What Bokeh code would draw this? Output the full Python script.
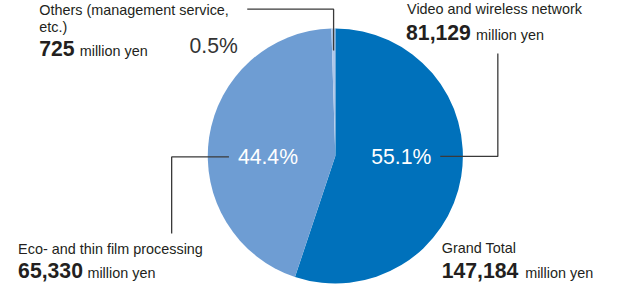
import math
from bokeh.plotting import figure
from bokeh.models import Range1d, ColumnDataSource
from bokeh.core.properties import value
from bokeh.embed import file_html
from bokeh.resources import INLINE

# ---- data ----
segment_names = ["Video and wireless network",
                 "Eco- and thin film processing",
                 "Others (management service,\netc.)"]
amounts = [81129, 65330, 725]          # million yen
slice_colors = ["#0071BB", "#6E9DD3", "#AEC7E9"]
unit_label = "million yen"
total_name = "Grand Total"

total = sum(amounts)
shares = [a / total for a in amounts]
pct_labels = [f"{100 * s:.1f}%" for s in shares]
amount_labels = [f"{a:,}" for a in amounts]

# ---- layout (reference pixel space, y down) ----
Y_TOP, Y_BOT = 6.0, 301.0
S = 284 / (Y_BOT - Y_TOP)
X0 = 313 - 0.5 * 609 / S
FONT = "Liberation Sans"
LAB, BIG = 15, 22
TXT = "#231F20"
LINE = "#3A3A3A"
BASE_FIX = 0.37   # em correction of the renderer's alphabetic baseline

def Y(v):
    return -v

p = figure(width=609, height=284, output_backend="svg", toolbar_location=None,
           x_axis_type=None, y_axis_type=None,
           x_range=Range1d(X0, X0 + 609 / S), y_range=Range1d(-Y_BOT, -Y_TOP))
p.min_border = 0
p.outline_line_color = None
p.grid.visible = False
p.background_fill_color = "white"

# pie
cx, cy, r = 344.5, 167.5, 132.5
cum = [0.0]
for s in shares:
    cum.append(cum[-1] + s)
starts = [math.pi / 2 - 2 * math.pi * cum[i] for i in range(len(shares))]
ends = [math.pi / 2 - 2 * math.pi * cum[i + 1] for i in range(len(shares))]
pie_src = ColumnDataSource(dict(start=starts, end=ends, color=slice_colors))
p.wedge(x=cx, y=Y(cy), radius=r, start_angle="start", end_angle="end",
        direction="clock", fill_color="color", line_color=None, source=pie_src)

# leader lines
p.line([253, 342.7, 342.7], [Y(15), Y(15), Y(58)], line_color=LINE, line_width=1.3)
p.line([513.3, 513.3, 453.5], [Y(61), Y(168), Y(168)], line_color=LINE, line_width=1.3)
p.line([234, 174.5, 174.5], [Y(168.5), Y(168.5), Y(248)], line_color=LINE, line_width=1.3)

def txt(x, y, t, size, color=TXT, style="normal", align="left"):
    yy = y - BASE_FIX * size
    p.text(x=[x], y=[Y(yy)], text=[t], text_font=value(FONT),
           text_font_size=f"{size * S:.1f}px",
           text_color=color, text_font_style=style, text_align=align,
           text_baseline="alphabetic")

# percentages
txt(413, 176, pct_labels[0], BIG, color="white", align="center")
txt(274.5, 176, pct_labels[1], BIG, color="white", align="center")
txt(193, 60.7, pct_labels[2], BIG, color="#333333")

# Video and wireless network
txt(419, 20, segment_names[0], LAB)
txt(418, 47.7, amount_labels[0], BIG, style="bold")
txt(490.7, 47.7, unit_label, LAB)

# Eco- and thin film processing
txt(15, 269.3, segment_names[1], LAB)
txt(15, 295, amount_labels[1], BIG, style="bold")
txt(87, 295, unit_label, LAB)

# Others
other_lines = segment_names[2].split("\n")
txt(37, 21.7, other_lines[0], LAB)
txt(37, 39, other_lines[1], LAB)
txt(37, 64.3, amount_labels[2], BIG, style="bold")
txt(79, 64.3, unit_label, LAB)

# Grand total
txt(455, 268.3, total_name, LAB)
txt(455, 295, f"{total:,}", BIG, style="bold")
txt(541.7, 295, unit_label, LAB)

open("out.html", "w").write(file_html(p, INLINE))
